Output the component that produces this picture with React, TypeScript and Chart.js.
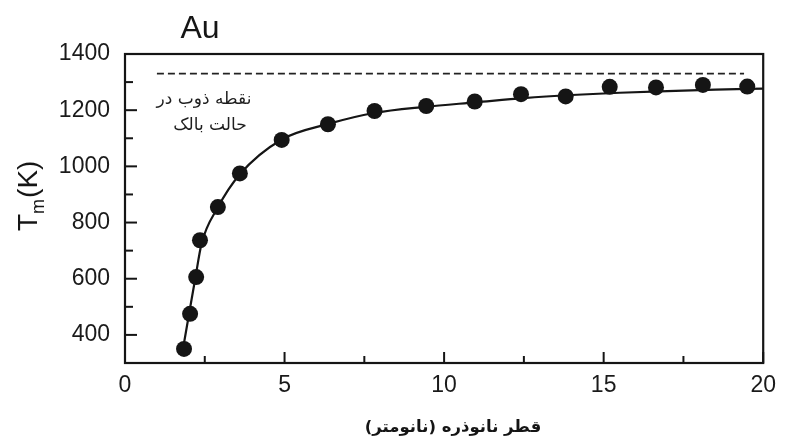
import React, { useEffect, useRef } from 'react';
import { Chart, registerables } from 'chart.js';

Chart.register(...registerables);

// Measured points: nanoparticle diameter (nm) vs melting temperature (K)
const DIAMETER_NM = [1.85, 2.04, 2.23, 2.35, 2.91, 3.6, 4.91, 6.36, 7.82, 9.44, 10.96, 12.41, 13.81, 15.19, 16.64, 18.11, 19.5];
const MELT_K = [350, 475, 606, 737, 855, 975, 1094, 1150, 1197, 1215, 1231, 1257, 1249, 1283, 1281, 1290, 1284];

// Fitted curve
const FIT_X = [1.78, 2.0, 2.2, 2.4, 2.9, 3.6, 4.9, 6.4, 7.8, 9.4, 11, 12.5, 14, 15.5, 17, 18.5, 20];
const FIT_Y = [326, 470, 600, 725, 852, 972, 1095, 1152, 1190, 1212, 1228, 1243, 1254, 1262, 1268, 1273, 1277];

// Bulk melting point (dashed)
const BULK_X = [1.0, 19.4];
const BULK_Y = [1330, 1330];

const X_TICKS = [0, 5, 10, 15, 20];
const X_MINOR = [2.5, 7.5, 12.5, 17.5];
const Y_TICKS = [400, 600, 800, 1000, 1200, 1400];
const Y_MINOR = [500, 700, 900, 1100, 1300];

const TITLE = 'Au';
const X_TITLE = 'قطر نانوذره (نانومتر)';
const NOTE_LINES = ['نقطه ذوب در', 'حالت بالک'];

const INK = '#151515';

const decorPlugin = {
  id: 'decor',
  afterDraw(chart: any) {
    const { ctx, chartArea: a, scales } = chart;
    const xs = scales.x;
    const ys = scales.y;
    ctx.save();
    // frame
    ctx.strokeStyle = INK;
    ctx.lineWidth = 2.2;
    ctx.strokeRect(a.left, a.top, a.right - a.left, a.bottom - a.top);
    // inward ticks
    ctx.lineWidth = 2;
    const tick = (x1: number, y1: number, x2: number, y2: number) => {
      ctx.beginPath();
      ctx.moveTo(x1, y1);
      ctx.lineTo(x2, y2);
      ctx.stroke();
    };
    X_TICKS.forEach((v) => {
      const px = xs.getPixelForValue(v);
      tick(px, a.bottom, px, a.bottom - 11);
    });
    X_MINOR.forEach((v) => {
      const px = xs.getPixelForValue(v);
      tick(px, a.bottom, px, a.bottom - 7);
    });
    Y_TICKS.forEach((v) => {
      const py = ys.getPixelForValue(v);
      tick(a.left, py, a.left + 12, py);
    });
    Y_MINOR.forEach((v) => {
      const py = ys.getPixelForValue(v);
      tick(a.left, py, a.left + 8, py);
    });

    // chart title
    ctx.fillStyle = INK;
    ctx.font = '32px "Liberation Sans", Arial, sans-serif';
    ctx.textAlign = 'center';
    ctx.textBaseline = 'alphabetic';
    ctx.fillText(TITLE, 200, 38);

    // y-axis title T_m(K), rotated
    ctx.save();
    ctx.translate(37, 231);
    ctx.rotate(-Math.PI / 2);
    ctx.textAlign = 'left';
    ctx.font = '28px "Liberation Sans", Arial, sans-serif';
    ctx.fillText('T', 0, 0);
    const wT = ctx.measureText('T').width;
    ctx.font = '18px "Liberation Sans", Arial, sans-serif';
    ctx.fillText('m', wT, 7);
    const wm = ctx.measureText('m').width;
    ctx.font = '28px "Liberation Sans", Arial, sans-serif';
    ctx.fillText('(K)', wT + wm + 1, 0);
    ctx.restore();

    // Persian texts
    ctx.direction = 'rtl';
    ctx.textAlign = 'center';
    ctx.textBaseline = 'middle';
    ctx.fillStyle = '#1e1e1e';
    ctx.font = '17px "DejaVu Sans", sans-serif';
    ctx.fillText(NOTE_LINES[0], 204, 100);
    ctx.fillText(NOTE_LINES[1], 210, 126);
    ctx.font = 'bold 16.5px "DejaVu Sans", sans-serif';
    ctx.fillStyle = INK;
    ctx.fillText(X_TITLE, 453, 428);
    ctx.restore();
  },
};

export default function App() {
  const ref = useRef<HTMLCanvasElement | null>(null);

  useEffect(() => {
    if (!ref.current) return;
    const tickFont = { family: '"Liberation Sans", Arial, sans-serif', size: 23 };
    const chart = new Chart(ref.current, {
      type: 'scatter',
      data: {
        datasets: [
          {
            label: 'measured',
            data: DIAMETER_NM.map((x, i) => ({ x, y: MELT_K[i] })),
            pointRadius: 8,
            pointBackgroundColor: INK,
            pointBorderColor: INK,
            pointBorderWidth: 0,
            showLine: false,
          },
          {
            label: 'fit',
            data: FIT_X.map((x, i) => ({ x, y: FIT_Y[i] })),
            showLine: true,
            pointRadius: 0,
            borderColor: INK,
            borderWidth: 2.2,
            cubicInterpolationMode: 'monotone',
          },
          {
            label: 'bulk',
            data: BULK_X.map((x, i) => ({ x, y: BULK_Y[i] })),
            showLine: true,
            pointRadius: 0,
            borderColor: '#222',
            borderWidth: 1.8,
            borderDash: [7, 4],
          },
        ],
      } as any,
      options: {
        responsive: false,
        animation: false,
        events: [],
        layout: { padding: { top: 54, right: 12, left: 0, bottom: 0 } },
        plugins: { legend: { display: false }, tooltip: { enabled: false } },
        scales: {
          x: {
            type: 'linear',
            min: 0,
            max: 20,
            afterBuildTicks: (s: any) => {
              s.ticks = X_TICKS.map((v) => ({ value: v }));
            },
            afterFit: (s: any) => {
              s.height = 76;
            },
            grid: { display: false, drawTicks: false },
            border: { display: false },
            ticks: {
              padding: 9,
              font: tickFont,
              color: '#1a1a1a',
              maxRotation: 0,
              autoSkip: false,
              callback: (v: any) => String(v),
            },
          },
          y: {
            type: 'linear',
            min: 300,
            max: 1400,
            afterBuildTicks: (s: any) => {
              s.ticks = Y_TICKS.map((v) => ({ value: v }));
            },
            afterFit: (s: any) => {
              s.width = 125;
            },
            grid: { display: false, drawTicks: false },
            border: { display: false },
            ticks: {
              padding: 15,
              font: tickFont,
              color: '#1a1a1a',
              autoSkip: false,
              callback: (v: any) => String(v),
            },
          },
        },
      } as any,
      plugins: [decorPlugin],
    });
    return () => chart.destroy();
  }, []);

  return (
    <div style={{ position: 'fixed', left: 0, top: 0, width: 785, height: 439, background: '#fff' }}>
      <canvas ref={ref} width={785} height={439} style={{ display: 'block' }} />
    </div>
  );
}
